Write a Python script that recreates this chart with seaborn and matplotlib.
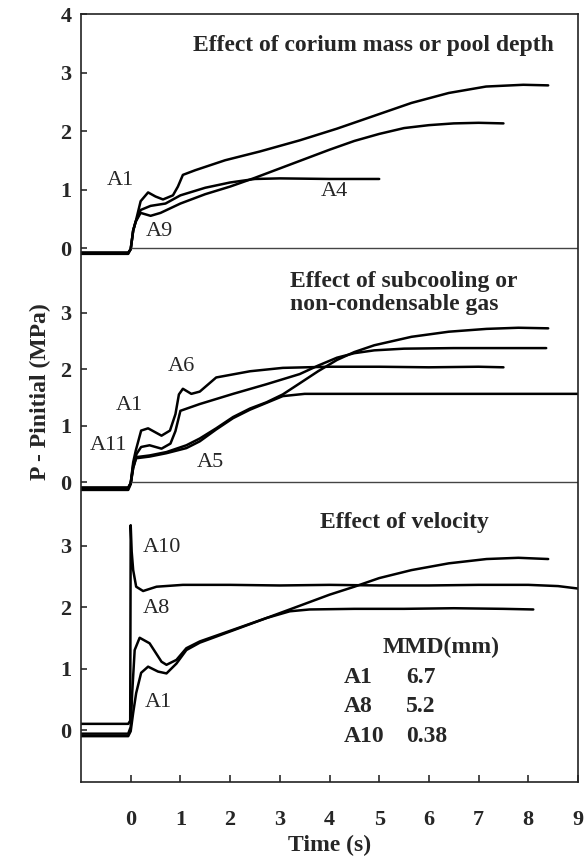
import matplotlib.pyplot as plt
import pandas as pd
import seaborn as sns

# ---- top panel: effect of corium mass or pool depth ----
top_a1_t = [-1.0, -0.05, 0.0, 0.05, 0.1, 0.2, 0.35, 0.5, 0.65, 0.85, 0.95, 1.05, 1.3, 1.9, 2.6, 3.4, 4.15, 4.9, 5.65, 6.4, 7.15, 7.9, 8.4]
top_a1_p = [-0.1, -0.1, -0.02, 0.3, 0.45, 0.8, 0.95, 0.88, 0.83, 0.9, 1.05, 1.25, 1.33, 1.5, 1.65, 1.84, 2.04, 2.26, 2.48, 2.65, 2.76, 2.79, 2.78]
top_a9_t = [-1.0, -0.05, 0.0, 0.05, 0.1, 0.2, 0.4, 0.6, 0.8, 1.0, 1.5, 2.0, 2.5, 3.0, 3.5, 4.0, 4.5, 5.0, 5.5, 6.0, 6.5, 7.0, 7.5]
top_a9_p = [-0.08, -0.08, -0.02, 0.3, 0.45, 0.6, 0.55, 0.6, 0.68, 0.76, 0.92, 1.05, 1.2, 1.36, 1.52, 1.68, 1.83, 1.95, 2.05, 2.1, 2.13, 2.14, 2.13]
top_a4_t = [-1.0, -0.05, 0.0, 0.05, 0.1, 0.2, 0.4, 0.7, 1.0, 1.5, 2.0, 2.5, 3.0, 4.0, 5.0]
top_a4_p = [-0.08, -0.08, -0.02, 0.3, 0.45, 0.65, 0.72, 0.76, 0.9, 1.03, 1.12, 1.18, 1.19, 1.18, 1.18]

# ---- middle panel: effect of subcooling or non-condensable gas ----
mid_a6_t = [-1.0, -0.05, 0.0, 0.05, 0.1, 0.21, 0.35, 0.62, 0.79, 0.9, 0.97, 1.05, 1.22, 1.39, 1.72, 2.4, 3.06, 4.0, 5.0, 6.0, 7.0, 7.5]
mid_a6_p = [-0.1, -0.1, -0.02, 0.35, 0.55, 0.91, 0.95, 0.82, 0.91, 1.2, 1.55, 1.65, 1.56, 1.6, 1.85, 1.96, 2.02, 2.04, 2.04, 2.03, 2.04, 2.03]
mid_a11_t = [-1.0, -0.05, 0.0, 0.05, 0.12, 0.21, 0.38, 0.62, 0.8, 0.9, 1.0, 1.39, 2.06, 2.73, 3.4, 3.77, 4.15, 4.5, 4.9, 5.5, 6.5, 7.5, 8.36]
mid_a11_p = [-0.12, -0.12, -0.02, 0.3, 0.5, 0.62, 0.65, 0.59, 0.68, 0.9, 1.26, 1.38, 1.56, 1.73, 1.91, 2.06, 2.2, 2.28, 2.33, 2.36, 2.37, 2.37, 2.37]
mid_a1_t = [-1.0, -0.05, 0.0, 0.05, 0.11, 0.38, 0.72, 1.12, 1.39, 1.72, 2.06, 2.4, 2.73, 3.06, 3.39, 3.77, 4.15, 4.5, 4.9, 5.65, 6.4, 7.16, 7.8, 8.4]
mid_a1_p = [-0.1, -0.1, -0.02, 0.25, 0.44, 0.47, 0.53, 0.65, 0.77, 0.95, 1.15, 1.3, 1.41, 1.55, 1.74, 1.96, 2.16, 2.3, 2.42, 2.57, 2.66, 2.71, 2.73, 2.72]
mid_a5_t = [-1.0, -0.05, 0.0, 0.05, 0.11, 0.38, 0.72, 1.12, 1.39, 1.72, 2.06, 2.4, 2.73, 3.06, 3.5, 4.5, 6.0, 7.5, 9.0]
mid_a5_p = [-0.14, -0.14, -0.04, 0.25, 0.42, 0.45, 0.51, 0.6, 0.72, 0.93, 1.13, 1.28, 1.4, 1.52, 1.56, 1.56, 1.56, 1.56, 1.56]

# ---- bottom panel: effect of velocity ----
bot_a10_t = [-1.0, -0.05, -0.01, 0.0, 0.02, 0.05, 0.11, 0.25, 0.52, 1.05, 2.0, 3.0, 4.0, 5.0, 6.0, 7.0, 8.0, 8.6, 9.0]
bot_a10_p = [0.1, 0.1, 0.15, 3.33, 2.9, 2.6, 2.33, 2.26, 2.33, 2.36, 2.36, 2.35, 2.36, 2.35, 2.35, 2.36, 2.36, 2.34, 2.3]
bot_a8_t = [-1.0, -0.05, 0.0, 0.03, 0.08, 0.18, 0.38, 0.62, 0.72, 0.92, 1.12, 1.39, 2.06, 2.73, 3.2, 3.6, 4.5, 5.5, 6.5, 7.5, 8.1]
bot_a8_p = [-0.06, -0.06, 0.05, 0.6, 1.3, 1.5, 1.41, 1.11, 1.06, 1.14, 1.33, 1.44, 1.63, 1.82, 1.93, 1.96, 1.97, 1.97, 1.98, 1.97, 1.96]
bot_a1_t = [-1.0, -0.05, 0.0, 0.05, 0.11, 0.21, 0.35, 0.55, 0.72, 0.92, 1.12, 1.39, 2.06, 2.73, 3.4, 4.0, 4.5, 5.0, 5.65, 6.4, 7.16, 7.8, 8.4]
bot_a1_p = [-0.1, -0.1, -0.02, 0.28, 0.6, 0.93, 1.03, 0.95, 0.92, 1.08, 1.3, 1.42, 1.62, 1.82, 2.02, 2.2, 2.33, 2.47, 2.6, 2.71, 2.78, 2.8, 2.78]

mmd_runs = ["A1", "A8", "A10"]
mmd_values = ["6.7", "5.2", "0.38"]

# layout of the three stacked panels (pixel row of zero, pixels per MPa)
panel_zero = [248, 482, 730]
panel_scale = [58.5, 56.5, 61.5]
panel_ticks = [[0, 1, 2, 3, 4], [0, 1, 2, 3], [0, 1, 2, 3]]


def stack(panel, p):
    return -(panel_zero[panel] - p * panel_scale[panel])


curves = [
    (0, "top A1", top_a1_t, top_a1_p),
    (0, "top A9", top_a9_t, top_a9_p),
    (0, "top A4", top_a4_t, top_a4_p),
    (1, "mid A6", mid_a6_t, mid_a6_p),
    (1, "mid A11", mid_a11_t, mid_a11_p),
    (1, "mid A1", mid_a1_t, mid_a1_p),
    (1, "mid A5", mid_a5_t, mid_a5_p),
    (2, "bot A10", bot_a10_t, bot_a10_p),
    (2, "bot A8", bot_a8_t, bot_a8_p),
    (2, "bot A1", bot_a1_t, bot_a1_p),
]

rows = []
for panel, name, ts, ps in curves:
    for t, p in zip(ts, ps):
        rows.append({"curve": name, "t": t, "y": stack(panel, p)})
df = pd.DataFrame(rows)

sns.set_theme(style="ticks")
plt.rcParams['font.family'] = ['Liberation Serif', 'DejaVu Serif']

fig = plt.figure(figsize=(5.86, 8.61), dpi=100)
ax = fig.add_axes([81 / 586, 1 - 782 / 861, 497 / 586, 768 / 861])

sns.lineplot(data=df, x="t", y="y", units="curve", estimator=None, color="black",
             linewidth=1.8, legend=False, ax=ax)

# zero lines of the upper two panels
for panel in [0, 1]:
    ax.hlines(stack(panel, 0), 0, 9, color="#444444", linewidth=1.0)

ax.set_xlim(-1, 9)
ax.set_ylim(-782, -14)

ax.set_xticks(range(10))
ax.set_xticklabels([str(i) for i in range(10)], fontsize=16, fontweight="bold")
yt, yl = [], []
for panel, ticks in enumerate(panel_ticks):
    for v in ticks:
        yt.append(stack(panel, v))
        yl.append(str(v))
ax.set_yticks(yt)
ax.set_yticklabels(yl, fontsize=16, fontweight="bold")
ax.tick_params(axis="x", direction="in", length=5, pad=20, color="#333333")
ax.tick_params(axis="y", direction="in", length=4, pad=7, color="#333333")
for s in ax.spines.values():
    s.set_linewidth(1.2)
    s.set_color("#222222")

ax.set_xlabel("Time (s)", fontsize=17, fontweight="bold", va="center")
ax.xaxis.set_label_coords(0.5, -0.082)
ax.set_ylabel("P - Pinitial (MPa)", fontsize=17, fontweight="bold", va="center")
ax.yaxis.set_label_coords(-0.082, 0.508)

# panel titles
ax.text(4.89, stack(0, 3.47), "Effect of corium mass or pool depth", fontsize=17,
        fontweight="bold", ha="center", va="center")
ax.text(3.2, stack(1, 3.35), "Effect of subcooling or\nnon-condensable gas", fontsize=17,
        fontweight="bold", ha="left", va="center", linespacing=1.15)
ax.text(5.5, stack(2, 3.38), "Effect of velocity", fontsize=17,
        fontweight="bold", ha="center", va="center")

# curve labels
labels = [
    (0, "A1", -0.2, 1.16), (0, "A9", 0.58, 0.29), (0, "A4", 4.1, 0.96),
    (1, "A6", 1.03, 2.04), (1, "A1", -0.02, 1.36), (1, "A11", -0.44, 0.65),
    (1, "A5", 1.61, 0.35),
    (2, "A10", 0.62, 2.96), (2, "A8", 0.52, 1.98), (2, "A1", 0.56, 0.44),
]
for panel, txt, t, p in labels:
    ax.text(t, stack(panel, p), txt, fontsize=16, ha="center", va="center")

# MMD table
ax.text(6.24, stack(2, 1.35), "MMD(mm)", fontsize=17, fontweight="bold",
        ha="center", va="center")
for i, (run, val) in enumerate(zip(mmd_runs, mmd_values)):
    p = 0.86 - i * 0.48
    ax.text(4.29, stack(2, p), run, fontsize=17, fontweight="bold", ha="left", va="center")
    ax.text(5.54, stack(2, p), val, fontsize=17, fontweight="bold", ha="left", va="center")

fig.savefig("out.png", dpi=100)
